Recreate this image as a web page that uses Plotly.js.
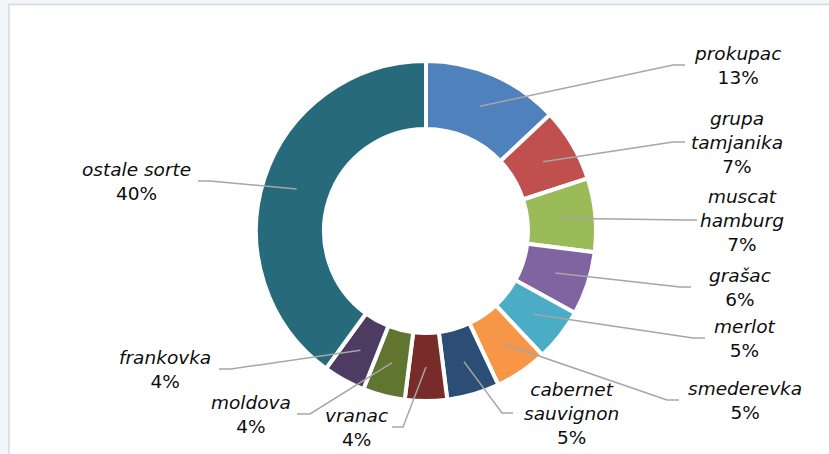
<!DOCTYPE html>
<html>
<head>
<meta charset="utf-8">
<script src="https://cdn.plot.ly/plotly-3.0.1.min.js"></script>
<style>html,body{margin:0;padding:0;background:#f0f6fa;}#chart{width:829px;height:454px;}</style>
</head>
<body>
<div id="chart"></div>
<script>
// ---- data ----
var categories = ["prokupac", "grupa tamjanika", "muscat hamburg", "grašac", "merlot", "smederevka",
                  "cabernet sauvignon", "vranac", "moldova", "frankovka", "ostale sorte"];
var labelLines = ["prokupac", "grupa<br>tamjanika", "muscat<br>hamburg", "grašac", "merlot", "smederevka",
                  "cabernet<br>sauvignon", "vranac", "moldova", "frankovka", "ostale sorte"];
var shares = [13, 7, 7, 6, 5, 5, 5, 4, 4, 4, 40];
var sliceColors = ["#4f81bd", "#c0504d", "#9bbb59", "#8064a2", "#4bacc6", "#f79646",
                   "#2c4d75", "#772c2a", "#5f7530", "#4d3b62", "#276a7c"];

// ---- layout (pixel positions of label blocks: [textX, textY, elbowX, endX]) ----
var W = 829, H = 454;
var cx = 426, cy = 231, R = 170, hole = 0.6;
var labelPos = [
  [737, 65, 673, 685],
  [737, 142, 673, 685],
  [742, 220, 686, 697],
  [740, 287, 680, 691],
  [744, 338, 693, 705],
  [745, 400, 667, 679],
  [571, 413, 502, 513],
  [356, 427, 403, 392],
  [251, 414, 310, 297],
  [165, 369, 231, 219],
  [136, 181, 210, 198]
];

function px(x) { return x / W; }
function py(y) { return 1 - y / H; }

var total = shares.reduce(function (a, b) { return a + b; }, 0);
var shapes = [{
  type: "rect", layer: "below", xref: "paper", yref: "paper",
  x0: px(9), x1: 1.02, y0: -0.02, y1: py(4.5),
  fillcolor: "#ffffff", line: {color: "#d6d9dc", width: 1.5}
}];
var annotations = [];
var cum = 0;
var rMid = (R - 2 + R * hole + 2) / 2;
for (var i = 0; i < shares.length; i++) {
  var mid = (cum + shares[i] / 2) / total * 2 * Math.PI;
  cum += shares[i];
  var sx = cx + rMid * Math.sin(mid);
  var sy = cy - rMid * Math.cos(mid);
  var p = labelPos[i];
  shapes.push({
    type: "path", xref: "paper", yref: "paper",
    path: "M" + px(sx) + "," + py(sy) + " L" + px(p[2]) + "," + py(p[1]) + " L" + px(p[3]) + "," + py(p[1]),
    line: {color: "#a6a6a6", width: 1.5}
  });
  var pct = Math.round(shares[i] / total * 100) + "%";
  annotations.push({
    xref: "paper", yref: "paper", x: px(p[0]), y: py(p[1]),
    xanchor: "center", yanchor: "middle", showarrow: false, align: "center",
    text: "<i>" + labelLines[i] + "</i><br>" + pct,
    font: {family: "DejaVu Sans, Verdana, sans-serif", size: 18.5, color: "#0d0d0d"}
  });
}

var trace = {
  type: "pie",
  labels: categories,
  values: shares,
  sort: false,
  direction: "clockwise",
  rotation: 0,
  hole: hole,
  textinfo: "none",
  hoverinfo: "label+percent",
  marker: {colors: sliceColors, line: {color: "#ffffff", width: 4}},
  domain: {x: [px(cx - R), px(cx + R)], y: [py(cy + R), py(cy - R)]},
  showlegend: false
};

var layout = {
  width: W, height: H,
  margin: {l: 0, r: 0, t: 0, b: 0},
  paper_bgcolor: "#f0f6fa",
  showlegend: false,
  shapes: shapes,
  annotations: annotations
};

Plotly.newPlot("chart", [trace], layout, {displayModeBar: false, staticPlot: true});
</script>
</body>
</html>
